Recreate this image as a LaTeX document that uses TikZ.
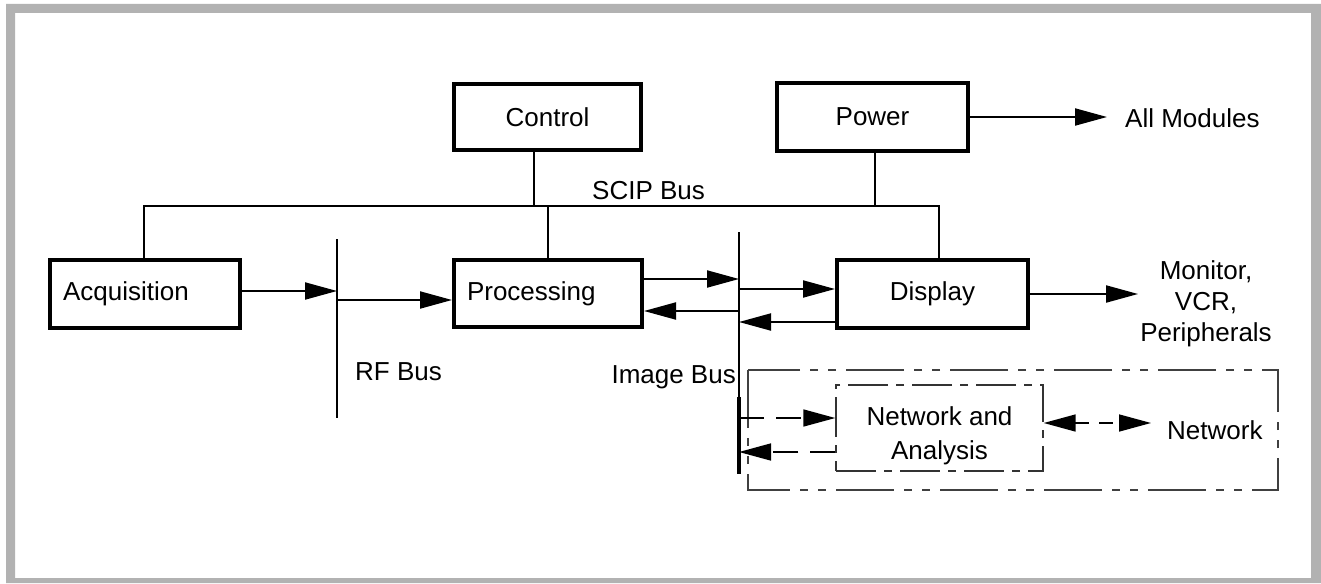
\documentclass[tikz,border=0pt]{standalone}
\usepackage{fontspec}
\setmainfont{Liberation Sans}
\usetikzlibrary{arrows.meta}
\begin{document}
\begin{tikzpicture}[x=1pt,y=-1pt,
  every node/.style={inner sep=0pt, font=\fontsize{26}{31}\selectfont},
  blk/.style={draw, line width=4pt, minimum height=68pt, minimum width=191pt},
  leftblk/.style={blk, text width=164pt, inner xsep=13pt, align=left},
  wire/.style={line width=2pt},
  head/.style={Triangle[length=32pt,width=17pt]},
  arr/.style={wire, -{Triangle[length=32pt,width=17pt]}},
  grpline/.style={draw=black!75, line width=1.6pt,
    dash pattern=on 58pt off 10pt on 8pt off 10pt on 8pt off 10pt},
  netbox/.style={draw=black!80, line width=1.4pt,
    dash pattern=on 40pt off 8pt on 8pt off 8pt},
  darr/.style={line width=1.6pt, dash pattern=on 25pt off 12pt,
    -{Triangle[length=32pt,width=17pt]}},
  ddarr/.style={line width=1.6pt, dash pattern=on 14pt off 10pt,
    {Triangle[length=32pt,width=17pt]}-{Triangle[length=32pt,width=17pt]}}
]
\useasboundingbox (0,0) rectangle (1321,583);
% outer frame
\fill[black!30, even odd rule] (6,4) rectangle (1321,583) (15,13) rectangle (1311,578);

% modules
\node[blk, minimum width=187pt, minimum height=66pt] (ctrl) at (547.5,117) {Control};
\node[blk, minimum width=191pt] (pwr) at (872.5,117) {Power};
\node[leftblk, minimum width=190pt] (acq) at (145,294) {Acquisition};
\node[leftblk, minimum width=188pt, text width=162pt, minimum height=67pt] (proc) at (548,293.5) {Processing};
\node[blk, minimum width=191pt] (disp) at (932.5,294) {Display};

% SCIP bus
\coordinate (scipL) at (144,206);
\coordinate (scipR) at (939,206);
\coordinate (cTap) at (534,206);
\coordinate (pTap) at (548,206);
\coordinate (wTap) at (875,206);
\draw[wire] (acq.north -| scipL) -- (scipL) -- (scipR) -- (disp.north -| scipR);
\draw[wire] (ctrl.south -| cTap) -- (cTap);
\draw[wire] (pTap) -- (proc.north);
\draw[wire] (pwr.south -| wTap) -- (wTap);
\node[anchor=base west] (scipLbl) at (592,199) {SCIP Bus};

% power distribution
\node[anchor=west] (allmod) at (1125,118) {All Modules};
\draw[arr, shorten >=18pt] (pwr.east) -- (pwr.east -| allmod.west);

% RF bus
\coordinate (rfT) at (337,239);
\coordinate (rfB) at (337,418);
\draw[wire] (rfT) -- (rfB);
\node[anchor=west] (rfLbl) at (355,372) {RF Bus};
\coordinate (aOut) at ([yshift=3pt]acq.east);
\draw[arr] (aOut) -- (aOut -| rfT);
\coordinate (pRF) at ([yshift=-6.5pt]proc.west);
\draw[arr] (pRF -| rfT) -- (pRF);

% image bus
\coordinate (ibT) at (739,232);
\coordinate (ibM) at (739,397);
\coordinate (ibB) at (739,474);
\draw[wire] (ibT) -- (ibB);
\draw[line width=3.5pt] (ibM) -- (ibB);
\node[anchor=east] (ibLbl) at (736,377) {Image Bus};
\coordinate (pOut) at ([yshift=14.5pt]proc.east);
\draw[arr] (pOut) -- (pOut -| ibT);
\coordinate (pIn) at ([yshift=-17.5pt]proc.east);
\draw[arr] (pIn -| ibT) -- (pIn);
\coordinate (dIn) at ([yshift=5pt]disp.west);
\draw[arr] (dIn -| ibT) -- (dIn);
\coordinate (dOut) at ([yshift=-28pt]disp.west);
\draw[arr] (dOut) -- (dOut -| ibT);

% display outputs
\node[align=center] (periph) at (1206,304) {Monitor,\\VCR,\\Peripherals};
\draw[arr, shorten >=2pt] (disp.east) -- (disp.east -| periph.west);

% network group
\draw[grpline] (748,370) rectangle (1278,490);
\node[netbox, minimum width=207pt, minimum height=86pt] (na) at (939.5,428)
  {\raisebox{-8pt}[\height][\depth]{\fontsize{26}{34}\selectfont\begin{tabular}{@{}c@{}}Network and\\Analysis\end{tabular}}};
\node[anchor=west] (net) at (1167,430) {Network};
\coordinate (naIn) at ([yshift=10pt]na.west);
\draw[darr] (naIn -| ibT) -- (naIn);
\coordinate (naOut) at ([yshift=-24pt]na.west);
\draw[darr] (naOut) -- (naOut -| ibT);
\coordinate (naR) at ([yshift=5pt]na.east);
\draw[ddarr, shorten >=16pt] (naR) -- (naR -| net.west);
\end{tikzpicture}
\end{document}
